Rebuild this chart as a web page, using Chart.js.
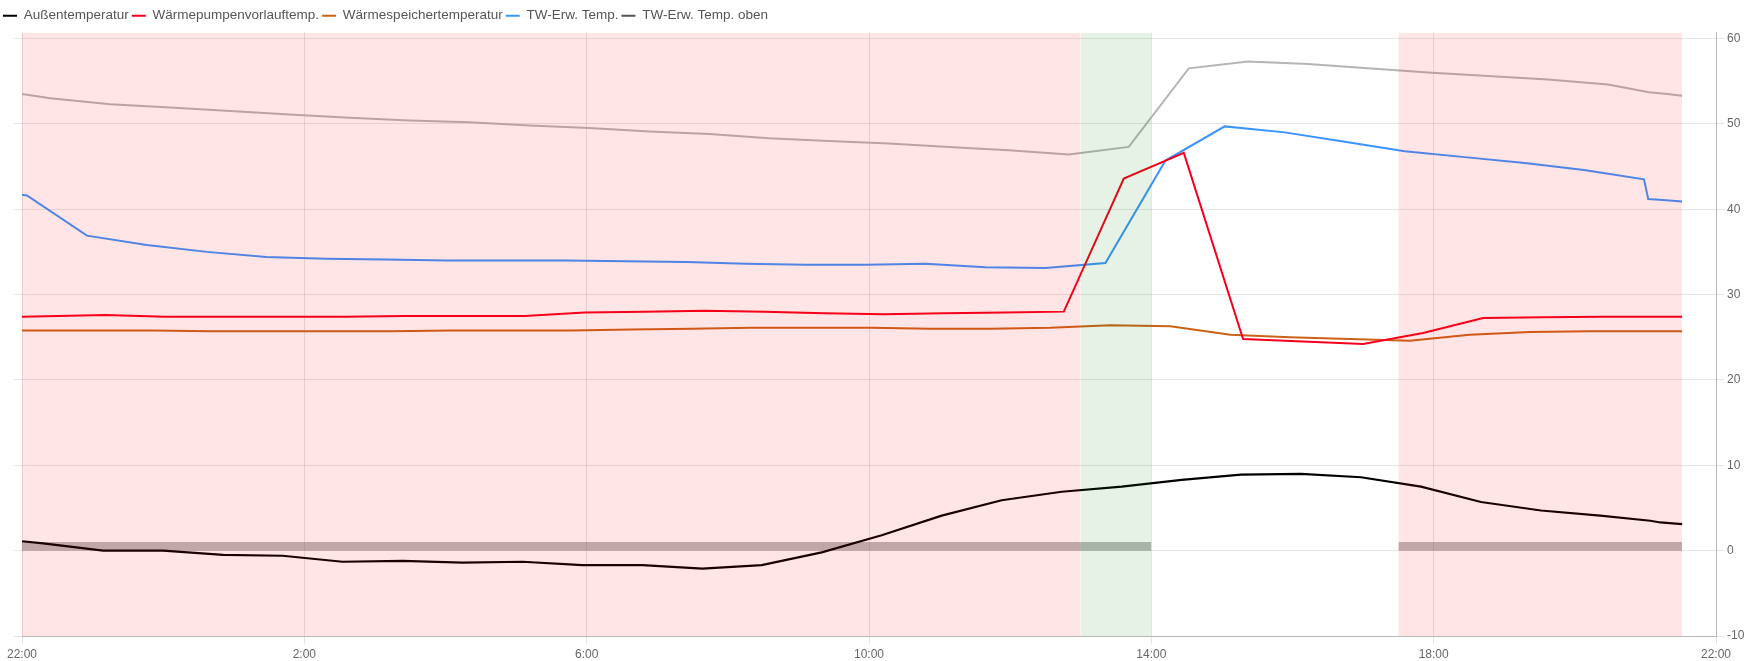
<!DOCTYPE html>
<html>
<head>
<meta charset="utf-8">
<script src="https://cdn.jsdelivr.net/npm/chart.js@4/dist/chart.umd.min.js"></script>
<style>
  html, body { margin: 0; padding: 0; background: #fff; }
  #wrap { width: 1749px; height: 661px; position: relative; }
</style>
</head>
<body>
<div id="wrap"><canvas id="chart"></canvas></div>
<script>
// all times are hours after 22:00 (x axis runs 22:00 .. 22:00)
const tAussen = [0, 0.30, 1.15, 2.00, 2.85, 3.69, 4.54, 5.39, 6.24, 7.09, 7.94, 8.79, 9.64, 10.48, 11.33, 12.18, 13.03, 13.88, 14.73, 15.58, 16.43, 17.27, 18.12, 18.97, 19.82, 20.67, 21.52, 22.36, 23.07, 23.21, 23.52];
const vAussen = [1.1, 0.85, 0.0, 0.0, -0.5, -0.6, -1.3, -1.2, -1.4, -1.3, -1.7, -1.7, -2.1, -1.7, -0.2, 1.8, 4.1, 5.9, 6.9, 7.5, 8.3, 8.9, 9.0, 8.6, 7.5, 5.7, 4.7, 4.1, 3.5, 3.3, 3.1];

const tVorlauf = [0, 1.18, 2.03, 2.88, 3.73, 4.57, 5.42, 6.27, 7.12, 7.97, 8.82, 9.67, 10.52, 11.37, 12.21, 13.06, 13.91, 14.76, 15.61, 16.46, 17.30, 18.15, 19.00, 19.85, 20.70, 21.55, 22.40, 23.24, 23.52];
const vVorlauf = [27.4, 27.6, 27.4, 27.4, 27.4, 27.4, 27.5, 27.5, 27.5, 27.9, 28.0, 28.1, 28.0, 27.8, 27.7, 27.8, 27.9, 28.0, 43.6, 46.6, 24.8, 24.5, 24.2, 25.5, 27.25, 27.35, 27.4, 27.4, 27.4];

const tSpeicher = [0, 0.14, 0.99, 1.84, 2.69, 3.54, 4.39, 5.23, 6.08, 6.93, 7.78, 8.63, 9.48, 10.33, 11.18, 12.03, 12.87, 13.72, 14.57, 15.42, 16.27, 17.12, 17.96, 18.81, 19.66, 20.51, 21.36, 22.21, 23.05, 23.52];
const vSpeicher = [25.8, 25.8, 25.8, 25.8, 25.7, 25.7, 25.7, 25.7, 25.8, 25.8, 25.8, 25.9, 26.0, 26.1, 26.1, 26.1, 26.0, 26.0, 26.1, 26.4, 26.3, 25.3, 25.0, 24.8, 24.6, 25.3, 25.6, 25.7, 25.7, 25.7];

const tTw = [0, 0.07, 0.92, 1.77, 2.62, 3.46, 4.31, 5.16, 6.01, 6.86, 7.71, 8.56, 9.41, 10.25, 11.10, 11.95, 12.80, 13.65, 14.50, 15.35, 16.20, 17.04, 17.89, 18.74, 19.59, 20.44, 21.29, 22.13, 22.98, 23.04, 23.20, 23.52];
const vTw = [41.7, 41.6, 36.9, 35.8, 35.0, 34.4, 34.2, 34.1, 34.0, 34.0, 34.0, 33.9, 33.8, 33.6, 33.5, 33.5, 33.6, 33.2, 33.1, 33.7, 45.7, 49.7, 49.0, 47.9, 46.8, 46.1, 45.4, 44.6, 43.5, 41.2, 41.1, 40.9];

const tTwOben = [0, 0.40, 1.25, 2.10, 2.95, 3.79, 4.64, 5.49, 6.34, 7.19, 8.04, 8.89, 9.74, 10.58, 11.43, 12.28, 13.13, 13.98, 14.83, 15.68, 16.53, 17.37, 18.22, 19.07, 19.92, 20.77, 21.62, 22.47, 23.05, 23.31, 23.52];
const vTwOben = [53.5, 53.0, 52.3, 51.9, 51.5, 51.1, 50.7, 50.4, 50.2, 49.8, 49.5, 49.1, 48.8, 48.3, 48.0, 47.7, 47.3, 46.9, 46.4, 47.3, 56.5, 57.3, 57.0, 56.5, 56.0, 55.6, 55.2, 54.6, 53.7, 53.5, 53.3];

// shaded periods [from, to]
const redBands = [[0, 15], [19.5, 23.52]];
const greenBands = [[15, 16]];
const greyBars = [[0, 16], [19.5, 23.52]];
const greyBarHeight = 1;

const Y_MIN = -10, Y_MAX = 60.7;

const pts = (t, v) => t.map((x, i) => ({ x: x, y: v[i] }));

function line(label, t, v, color, legendColor, width) {
    return {
        label: label,
        data: pts(t, v),
        borderColor: color,
        backgroundColor: color,
        legendColor: legendColor || color,
        borderWidth: width || 2,
        pointRadius: 0,
        tension: 0,
        fill: false,
        order: 0
    };
}

function band(range, top, color, fill, order) {
    return {
        helper: true,
        data: [{ x: range[0], y: top }, { x: range[1], y: top }],
        borderColor: 'rgba(0,0,0,0)',
        borderWidth: 0,
        backgroundColor: color,
        pointRadius: 0,
        fill: fill,
        order: order
    };
}

let datasets = [
    line('Außentemperatur', tAussen, vAussen, '#000000', null, 2.2),
    line('Wärmepumpenvorlauftemp.', tVorlauf, vVorlauf, '#f5001c'),
    line('Wärmespeichertemperatur', tSpeicher, vSpeicher, '#cc6218'),
    line('TW-Erw. Temp.', tTw, vTw, '#3b93ff'),
    line('TW-Erw. Temp. oben', tTwOben, vTwOben, '#b5b5b5', '#555555')
];
greyBars.forEach(r => datasets.push(band(r, greyBarHeight, 'rgba(120,120,120,0.5)', 'origin', 1)));
redBands.forEach(r => datasets.push(band(r, Y_MAX, 'rgba(255,0,0,0.1)', 'start', -1)));
greenBands.forEach(r => datasets.push(band(r, Y_MAX, 'rgba(0,128,0,0.1)', 'start', -1)));

const tickFont = { family: 'Liberation Sans', size: 12 };
const gridColor = 'rgba(0,0,0,0.1)';

new Chart(document.getElementById('chart'), {
    type: 'line',
    data: { datasets: datasets },
    options: {
        animation: false,
        responsive: true,
        maintainAspectRatio: false,
        layout: { padding: { top: 6, left: 0, right: 0, bottom: 0 } },
        plugins: {
            tooltip: { enabled: false },
            legend: {
                position: 'top',
                align: 'start',
                labels: {
                    boxWidth: 14,
                    boxHeight: 2,
                    padding: 3,
                    color: '#555',
                    font: { family: 'Liberation Sans', size: 13.5 },
                    generateLabels: chart => Chart.defaults.plugins.legend.labels.generateLabels(chart)
                        .filter(it => !chart.data.datasets[it.datasetIndex].helper)
                        .map(it => Object.assign(it, {
                            fillStyle: chart.data.datasets[it.datasetIndex].legendColor,
                            strokeStyle: chart.data.datasets[it.datasetIndex].legendColor,
                            lineWidth: 0
                        }))
                }
            }
        },
        scales: {
            x: {
                type: 'linear',
                min: 0,
                max: 24,
                ticks: {
                    stepSize: 4,
                    color: '#666',
                    font: tickFont,
                    maxRotation: 0,
                    callback: v => ((22 + v) % 24) + ':00'
                },
                grid: { color: gridColor, tickLength: 8 },
                border: { color: 'rgba(0,0,0,0.2)' },
                afterFit: s => { s.height = 25; }
            },
            y: {
                position: 'right',
                min: Y_MIN,
                max: Y_MAX,
                ticks: {
                    stepSize: 10,
                    includeBounds: false,
                    color: '#666',
                    font: tickFont
                },
                grid: { color: gridColor, tickLength: 8 },
                border: { color: 'rgba(0,0,0,0.2)' },
                afterFit: s => { s.width = 33; }
            },
            yLeft: {
                position: 'left',
                min: Y_MIN,
                max: Y_MAX,
                ticks: { stepSize: 10, includeBounds: false, display: false },
                grid: { drawOnChartArea: false, color: gridColor, tickLength: 8 },
                border: { display: false },
                afterFit: s => { s.width = 22; }
            }
        }
    }
});
</script>
</body>
</html>
